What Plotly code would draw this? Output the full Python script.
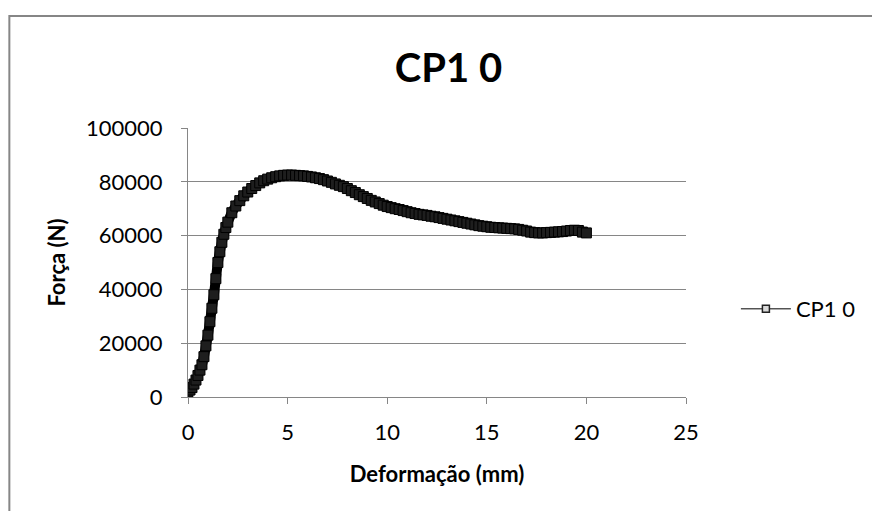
import plotly.graph_objects as go

# Data
deformacao = [0.0, 0.1, 0.2, 0.3, 0.4, 0.5, 0.6, 0.7, 0.8, 0.9, 1.0,
              1.1, 1.2, 1.3, 1.4, 1.5, 1.6, 1.7, 1.8, 1.9, 2.0,
              2.2, 2.4, 2.6, 2.8, 3.0, 3.2, 3.4, 3.6, 3.8, 4.0,
              4.2, 4.4, 4.6, 4.8, 5.0, 5.2, 5.4, 5.6, 5.8, 6.0,
              6.2, 6.4, 6.6, 6.8, 7.0, 7.2, 7.4, 7.6, 7.8, 8.0,
              8.2, 8.4, 8.6, 8.8, 9.0, 9.2, 9.4, 9.6, 9.8, 10.0,
              10.2, 10.4, 10.6, 10.8, 11.0, 11.2, 11.4, 11.6, 11.8, 12.0,
              12.2, 12.4, 12.6, 12.8, 13.0, 13.2, 13.4, 13.6, 13.8, 14.0,
              14.2, 14.4, 14.6, 14.8, 15.0, 15.2, 15.4, 15.6, 15.8, 16.0,
              16.2, 16.4, 16.6, 16.8, 17.0, 17.2, 17.4, 17.6, 17.8, 18.0,
              18.2, 18.4, 18.6, 18.8, 19.0, 19.2, 19.4, 19.6, 19.8, 20.0]
forca = [2000, 2600, 3500, 4800, 6300, 8000, 10000, 12000, 15000, 19000, 23000,
         28000, 33000, 38000, 44000, 50000, 54000, 57500, 60500, 63000, 65000,
         68500, 71000, 73000, 74800, 76200, 77500, 78600, 79600, 80400, 81000,
         81500, 81900, 82200, 82400, 82500, 82500, 82400, 82300, 82200, 82000,
         81800, 81500, 81200, 80800, 80300, 79800, 79200, 78700, 78200, 77500,
         76700, 76000, 75200, 74500, 73800, 73100, 72500, 71900, 71300, 70800,
         70400, 70000, 69700, 69300, 68900, 68500, 68200, 67900, 67700, 67500,
         67200, 67000, 66700, 66400, 66100, 65800, 65500, 65200, 64900, 64600,
         64300, 64000, 63700, 63500, 63300, 63100, 63000, 62900, 62800, 62700,
         62600, 62500, 62300, 62000, 61700, 61300, 61100, 61000, 61000, 61100,
         61200, 61300, 61400, 61500, 61700, 61900, 62000, 61900, 61300, 61000]

series_name = "CP1 0"
chart_title = "CP1 0"
x_title = "Deformação (mm)"
y_title = "Força (N)"
x_ticks = [0, 5, 10, 15, 20, 25]
y_ticks = [0, 20000, 40000, 60000, 80000, 100000]

FONT = "Lato"
GRID = "#868686"

fig = go.Figure()

fig.add_trace(go.Scatter(
    x=deformacao, y=forca, mode="lines+markers", showlegend=False,
    line=dict(color="black", width=10, shape="spline", smoothing=0.6),
    marker=dict(symbol="square", size=10, color="#1e1e1e",
                line=dict(color="black", width=1)),
))
# legend entry
fig.add_trace(go.Scatter(
    x=[None], y=[None], mode="lines+markers", name=series_name,
    line=dict(color="black", width=1),
    marker=dict(symbol="square", size=7, color="#d9d9d9",
                line=dict(color="#222222", width=1.5)),
))

fig.update_layout(
    width=872, height=511,
    margin=dict(l=188, r=185, t=128, b=114),
    paper_bgcolor="white", plot_bgcolor="white",
    font=dict(family=FONT, size=22, color="black"),
    title=dict(text=chart_title, x=448.5 / 872, xanchor="center",
               y=1 - 68 / 511, yanchor="middle",
               font=dict(family=FONT, size=40, weight="bold", color="black")),
    legend=dict(x=1.098, xanchor="left", y=0.327, yanchor="middle",
                itemwidth=50,
                font=dict(family=FONT, size=22, color="black"),
                bgcolor="rgba(0,0,0,0)"),
    xaxis=dict(range=[0, 25], tickvals=x_ticks, showgrid=False, zeroline=False,
               showline=True, linecolor=GRID, linewidth=1,
               ticks="outside", ticklen=6, tickcolor=GRID, ticklabelstandoff=10,
               tickfont=dict(family=FONT, size=22, color="black"),
               title=dict(text=x_title, standoff=22,
                          font=dict(family=FONT, size=22, weight="bold", color="black")),
               automargin=False),
    yaxis=dict(range=[0, 100000], tickvals=y_ticks, tickformat="d",
               showgrid=True, gridcolor=GRID, gridwidth=1, zeroline=False,
               showline=True, linecolor=GRID, linewidth=1,
               ticks="outside", ticklen=6, tickcolor=GRID, ticklabelstandoff=14,
               tickfont=dict(family=FONT, size=22, color="black"),
               title=dict(text=y_title, standoff=14,
                          font=dict(family=FONT, size=22, weight="bold", color="black")),
               automargin=False),
    shapes=[dict(type="rect", xref="paper", yref="paper",
                 x0=(9 - 188) / 499, x1=(900 - 188) / 499,
                 y0=(397 - 540) / 269, y1=(397 - 16) / 269,
                 line=dict(color="#868686", width=2), fillcolor="rgba(0,0,0,0)",
                 layer="below")],
)

fig.write_html("out.html")
